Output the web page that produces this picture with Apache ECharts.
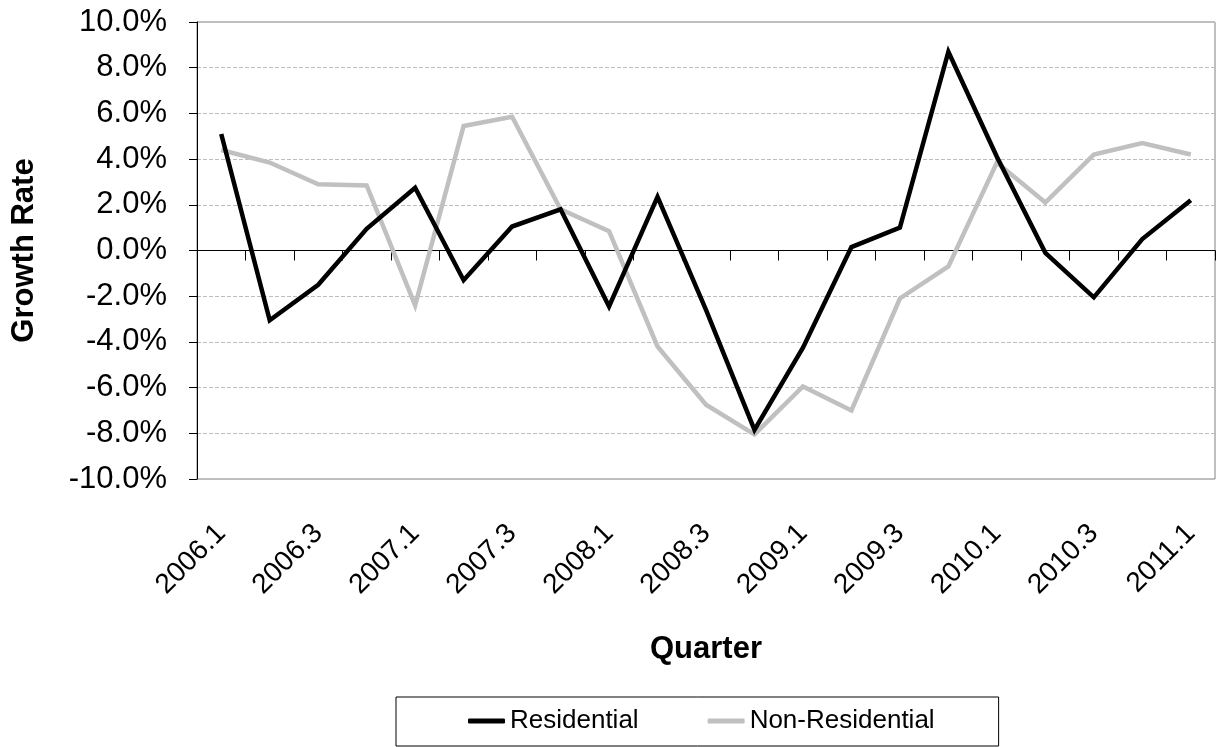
<!DOCTYPE html>
<html>
<head>
<meta charset="utf-8">
<script src="https://cdn.jsdelivr.net/npm/echarts@6/dist/echarts.min.js"></script>
<style>
  html, body { margin: 0; padding: 0; background: #fff; }
  #chart { width: 1217px; height: 747px; }
</style>
</head>
<body>
<div id="chart"></div>
<script>
// Quarterly growth rates, in percent
const quarters = [
  '2006.1', '2006.2', '2006.3', '2006.4',
  '2007.1', '2007.2', '2007.3', '2007.4',
  '2008.1', '2008.2', '2008.3', '2008.4',
  '2009.1', '2009.2', '2009.3', '2009.4',
  '2010.1', '2010.2', '2010.3', '2010.4',
  '2011.1'
];
const residential = [
  5.1, -3.05, -1.5, 0.95,
  2.75, -1.3, 1.05, 1.8,
  -2.45, 2.35, -2.6, -7.85,
  -4.25, 0.15, 1.0, 8.7,
  4.1, -0.1, -2.05, 0.5,
  2.2
];
const nonResidential = [
  4.4, 3.85, 2.9, 2.85,
  -2.4, 5.45, 5.85, 1.8,
  0.85, -4.2, -6.75, -8.05,
  -5.95, -7.0, -2.1, -0.7,
  3.85, 2.1, 4.2, 4.7,
  4.2
];
const yMin = -10, yMax = 10, yStep = 2;

const FONT = 'Liberation Sans, Arial, Helvetica, sans-serif';
const chart = echarts.init(document.getElementById('chart'), null, { renderer: 'canvas' });

chart.setOption({
  animation: false,
  backgroundColor: '#ffffff',
  textStyle: { fontFamily: FONT, color: '#000' },
  grid: {
    left: 197, top: 22, right: 2, bottom: 268,
    show: true, borderColor: '#808080', borderWidth: 1, backgroundColor: 'transparent'
  },
  legend: {
    left: 396, top: 697,
    data: ['Residential', 'Non-Residential'],
    icon: 'roundRect',
    itemWidth: 37, itemHeight: 5, itemGap: 69,
    borderColor: '#000', borderWidth: 1, borderRadius: 0,
    padding: [11, 64, 12, 72],
    textStyle: { fontFamily: FONT, fontSize: 26, color: '#000' }
  },
  xAxis: [
    {
      // bottom axis carrying the quarter labels
      type: 'category', data: quarters, boundaryGap: true,
      position: 'bottom',
      axisLine: { show: false, onZero: false },
      axisTick: { show: false },
      splitLine: { show: false },
      axisLabel: {
        interval: 1, rotate: 45, fontSize: 28, color: '#000', fontFamily: FONT,
        margin: 50
      },
      name: 'Quarter', nameLocation: 'middle', nameGap: 155,
      nameTextStyle: { fontSize: 31, fontWeight: 'bold', color: '#000', fontFamily: FONT }
    },
    {
      // category line drawn through zero with tick marks between quarters
      type: 'category', data: quarters, boundaryGap: true,
      position: 'bottom',
      axisLine: { show: true, onZero: true, lineStyle: { color: '#000', width: 1 } },
      axisTick: { show: true, interval: 0, length: 10, lineStyle: { color: '#000', width: 1 } },
      axisLabel: { show: false },
      splitLine: { show: false }
    }
  ],
  yAxis: {
    type: 'value', min: yMin, max: yMax, interval: yStep,
    axisLine: { show: true, lineStyle: { color: '#000', width: 1 } },
    axisTick: { show: true, length: 8, lineStyle: { color: '#000', width: 1 } },
    axisLabel: {
      fontSize: 31, color: '#000', fontFamily: FONT, margin: 30,
      formatter: v => v.toFixed(1) + '%'
    },
    splitLine: { show: true, lineStyle: { color: '#bdbdbd', width: 1, type: [4, 2] } },
    name: 'Growth Rate', nameLocation: 'middle', nameGap: 157,
    nameTextStyle: { fontSize: 31, fontWeight: 'bold', color: '#000', fontFamily: FONT }
  },
  series: [
    {
      name: 'Residential', type: 'line', xAxisIndex: 0, data: residential,
      symbol: 'none', z: 4,
      lineStyle: { color: '#000000', width: 4.5, join: 'miter' },
      itemStyle: { color: '#000000' }
    },
    {
      name: 'Non-Residential', type: 'line', xAxisIndex: 0, data: nonResidential,
      symbol: 'none', z: 3,
      lineStyle: { color: '#c0c0c0', width: 4.5, join: 'miter' },
      itemStyle: { color: '#c0c0c0' }
    }
  ]
});
</script>
</body>
</html>
